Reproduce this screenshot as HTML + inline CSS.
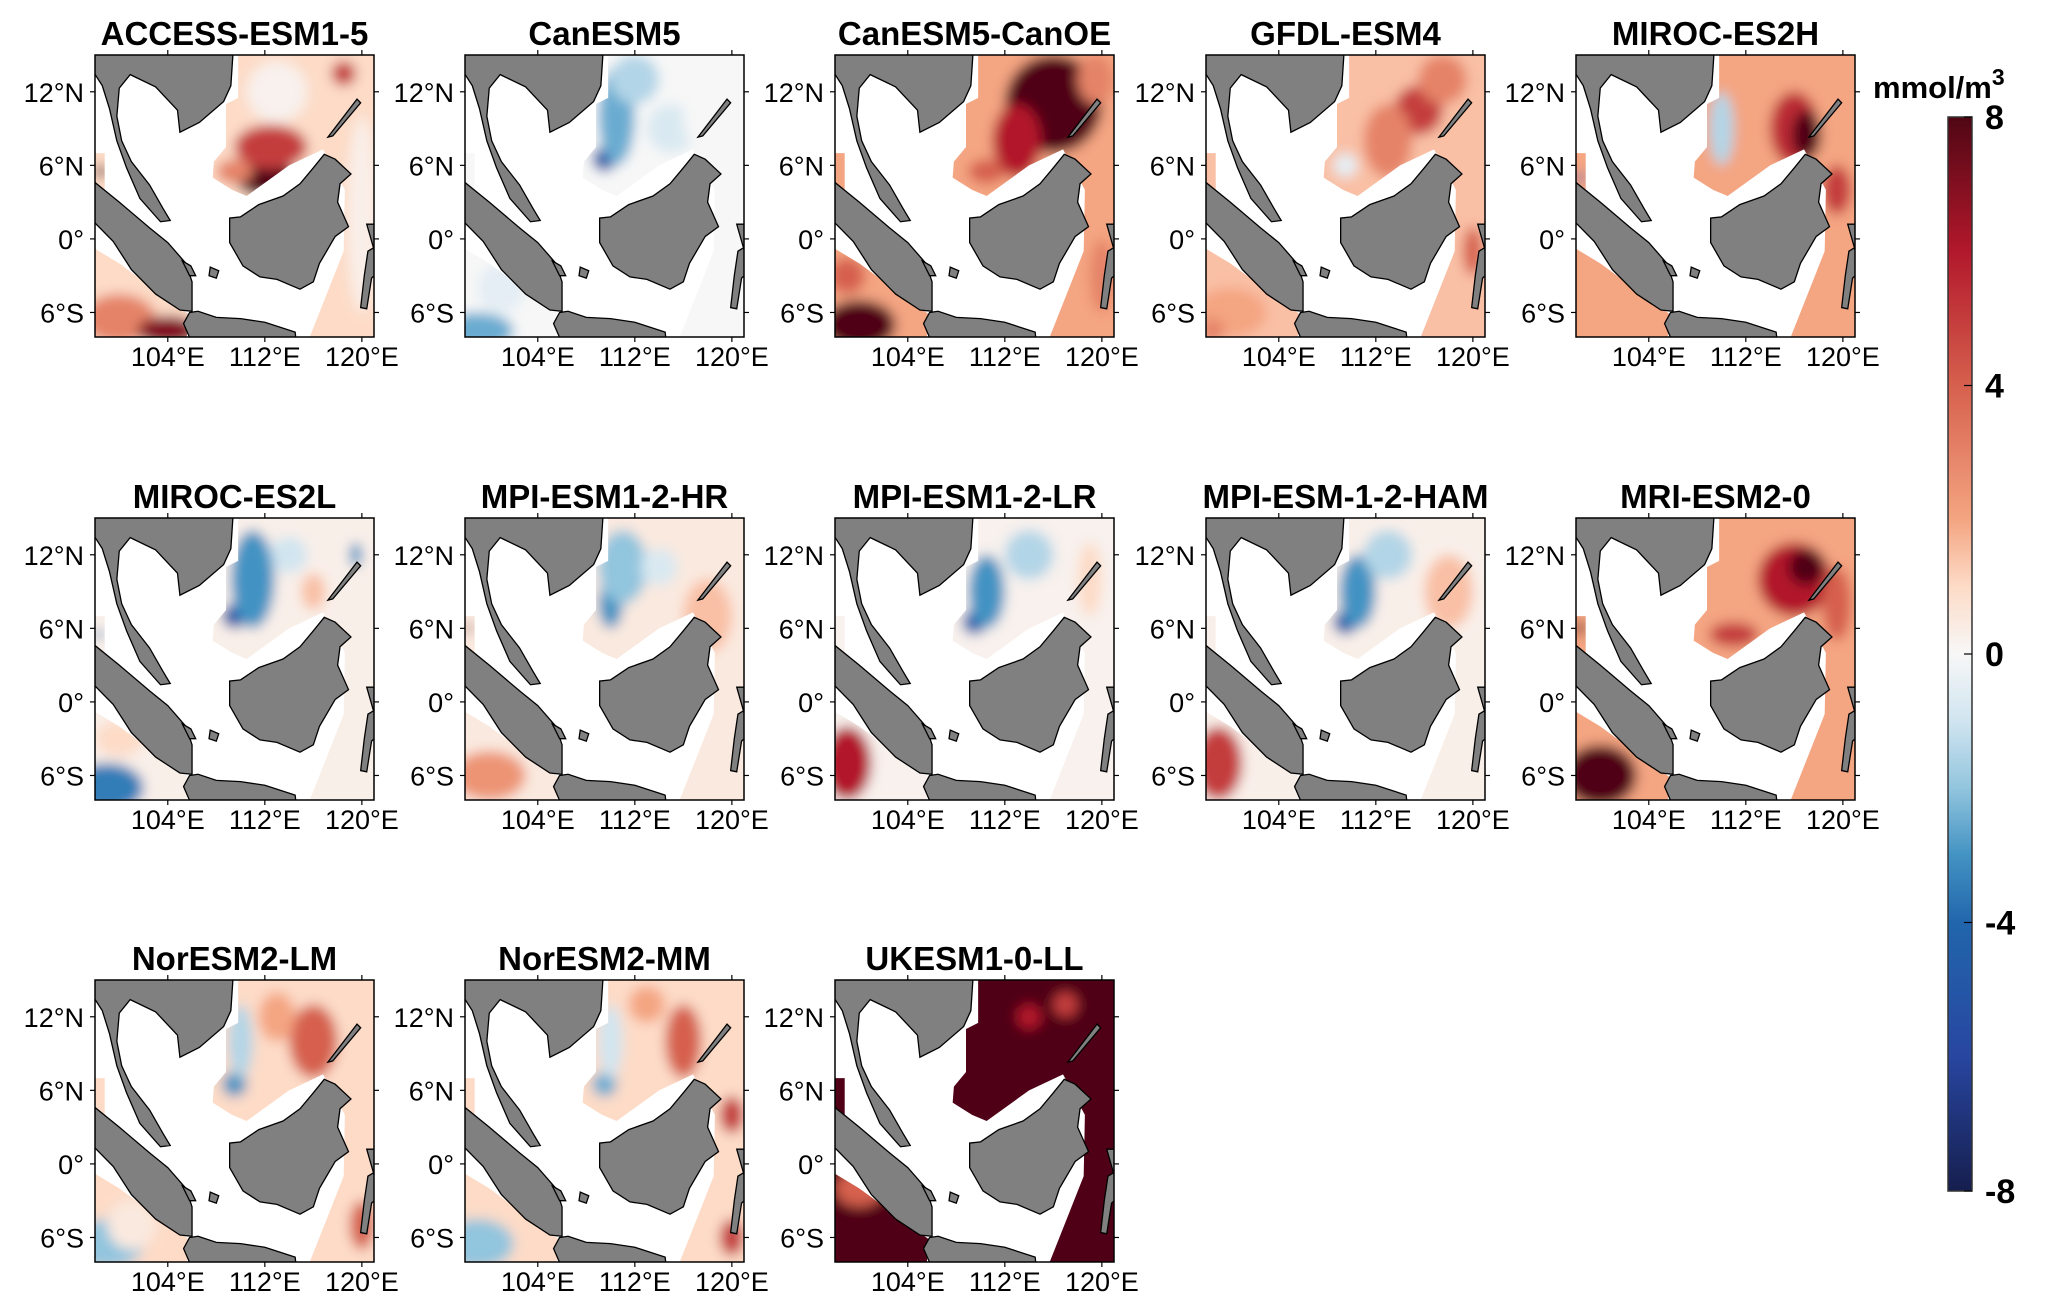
<!DOCTYPE html>
<html><head><meta charset="utf-8">
<style>
html,body{margin:0;padding:0;background:#fff;}
body{width:2067px;height:1307px;position:relative;overflow:hidden;font-family:"Liberation Sans",sans-serif;}
svg text{font-family:"Liberation Sans",sans-serif;}
</style></head>
<body>
<svg id="fig" width="2067" height="1307" xmlns="http://www.w3.org/2000/svg"></svg>
<script>
// ---- data ----
const models = ["ACCESS-ESM1-5","CanESM5","CanESM5-CanOE","GFDL-ESM4","MIROC-ES2H","MIROC-ES2L","MPI-ESM1-2-HR","MPI-ESM1-2-LR","MPI-ESM-1-2-HAM","MRI-ESM2-0","NorESM2-LM","NorESM2-MM","UKESM1-0-LL"];
const baseValues = [1, 0, 2, 1.5, 2, 0.3, 0.5, 0.2, 0.3, 2, 1, 1, 8];
// anomaly patches: [lon, lat, rx, ry, value]
const patches = [
 [[112,5,2.5,1.5,8],[112.5,7.5,3,1.8,5],[109.5,5.5,1.5,1,3],[113,12,2.5,2.5,0.2],[118.5,13.5,1,1,5],[120,2,1.2,8,0.3],[100,-6.5,3,2,3],[104,-7.5,2.5,1.2,7],[98.5,5.5,0.5,0.5,8]],
 [[109.5,6.5,1,1,-5],[110.5,10,1.5,4,-2.5],[112,13,2,2,-1.5],[115,9,2,2,-0.8],[118,10,2,3,0],[99,-7.5,3,1.5,-2.5],[101,-4,2,2,-0.5]],
 [[116,11,4,4,9],[113,8,2,3,6],[110.5,5.5,1.5,1,4],[119.5,13,1.5,2,3],[100,-7,3,2,8],[99,-3,1.5,1.5,4],[120,-3,1,3,3]],
 [[115.5,10.5,2,2,5],[113,8,2,3,3],[109.5,6,1,1,-0.5],[117.5,13,2,2,3],[100,-6,3,2,2],[98.5,-7.5,1,1,3],[120,-1,0.8,2,4]],
 [[110,9,1,3,-1.5],[116,9,2,3,5.5],[117,8.5,1.2,2,8],[119.5,4,1.2,2,5],[100,-5,3,2,2],[98.3,5,0.4,0.4,-4]],
 [[109.5,7,1,1,-5],[111,10,1.8,4,-3],[114,12,1.5,1.5,-1],[116,9,1,1.5,1.5],[119.5,12,0.5,1,-3],[99,-7,3,2,-3.5],[100,-3,2,1.5,1],[98.3,5.5,0.4,0.4,-3]],
 [[110,8,1,2,-3],[111,11,2,3,-2],[114,11,1.5,1.5,-0.8],[118,7,2,3,1.5],[100,-6,3,2,2.5],[98.3,6,0.3,0.4,7]],
 [[109.5,6.5,1,1,-4.5],[110.5,9,1.5,3,-3],[114,12,2,2,-1.5],[119,10,1,3,1],[99,-5,2,3,6]],
 [[109.5,6.5,1,1,-4.5],[110.5,9,1.5,3,-3],[113,12,2,2,-1.5],[118,9,2,3,1.5],[99,-5,2,3,5]],
 [[116,10,3,3,6],[117,11,1.5,1.5,9],[111,5.5,2,1,5],[119.5,8,1.2,3,4],[100,-6,3,2.5,9],[98.3,6,0.4,0.6,8]],
 [[109.5,6.5,1,1,-3],[110,10,1,3,-1.5],[116,10,2,3,4],[113,12,1.5,2,2],[99,-6.5,3,2,-2],[101,-5,2,2,0.5],[120,-5,1,2,4]],
 [[109.5,6.5,1,1,-2.5],[110,10,1,3,-1],[116,10,1.5,3,4],[113,13,1.5,1.5,2],[120,4,1,1.5,5],[99,-6.5,3,2,-2],[120,-6,1,1.5,5]],
 [[117,13,1,1,5],[114,12,1,1,6],[100,-6,4,3,9],[100,-2,2,1.5,4]]
];
const cbTicks = [8,4,0,-4,-8];
const latTicks = [12,6,0,-6];
const latLabels = ["12°N","6°N","0°","6°S"];
const lonTicks = [104,112,120];
const lonLabels = ["104°E","112°E","120°E"];

// ---- geometry ----
const NS="http://www.w3.org/2000/svg";
const svg=document.getElementById('fig');
function el(t,a,p){const e=document.createElementNS(NS,t);for(const k in a)e.setAttribute(k,a[k]);(p||svg).appendChild(e);return e;}
const colStops=[[-8,[22,30,78]],[-6,[40,70,160]],[-4,[33,102,172]],[-3,[67,147,195]],[-2,[146,197,222]],[-1,[209,229,240]],[0,[247,247,247]],[1,[253,219,199]],[2,[244,165,130]],[4,[214,96,77]],[6,[178,24,43]],[8,[80,6,20]]];
function col(v){v=Math.max(-8,Math.min(8,v));for(let i=0;i<colStops.length-1;i++){const a=colStops[i],b=colStops[i+1];if(v<=b[0]){const t=(v-a[0])/(b[0]-a[0]);const c=a[1].map((x,j)=>Math.round(x+(b[1][j]-x)*t));return `rgb(${c})`;}}return 'rgb(80,6,20)';}
const colX=[95,465,835,1206,1576], rowY=[55,518,980], PW=279, PH=282;
const LON0=98,LON1=121,LAT0=-8,LAT1=15;
function pts(a){return a.map(p=>p[0]+','+(-p[1])).join(' ');}
const land=[
 [[97.5,15.5],[109.4,15.5],[109.2,12.5],[108.6,11.2],[106.6,9.5],[105,8.7],[104.8,10.5],[103,12.4],[100.9,13.4],[100,12.3],[99.8,10],[100.2,8],[101,6.3],[102.5,4.4],[103.6,2.5],[104.2,1.5],[103.4,1.4],[101.7,3.3],[100.6,5.8],[99.8,8],[99.2,10.6],[98.6,12.5],[97.5,14.2]],
 [[97.5,5],[100,3],[102.5,0.9],[104,-0.3],[105.5,-2],[106,-3.5],[106,-5.9],[105,-5.8],[103,-4.5],[101,-2.5],[99.5,-0.2],[97.5,1.8]],
 [[109.1,1.7],[110,1.8],[111.5,2.8],[113.5,3.5],[114.9,4.5],[116,5.8],[116.9,6.9],[117.8,6.5],[119.1,5.3],[118.2,4.5],[118,3],[118.9,1],[117.8,0.2],[116.5,-2],[116,-3.5],[114.9,-4.1],[113,-3.3],[111.6,-3.1],[110.2,-2.2],[109.1,-0.3]],
 [[105.8,-6],[106.5,-5.9],[108,-6.4],[110,-6.5],[112,-6.8],[114.5,-7.6],[114.6,-8.5],[106,-8.5],[105.3,-6.9]],
 [[120.4,1.2],[121.5,1.2],[121.5,-0.4],[120.5,-1],[120.2,-3],[119.9,-5.6],[120.4,-5.7],[120.8,-3.2],[121.5,-2.6]],
 [[117.2,8.3],[119.6,11.4],[119.9,11.1],[117.6,8.4]],
 [[107.5,-2.3],[108.2,-2.6],[108,-3.2],[107.4,-3]],
 [[105.2,-1.8],[105.9,-2.2],[106.3,-3],[105.8,-3]]
];
const mask=[
 [[109.8,15.5],[121.5,15.5],[121.5,-8.5],[115.5,-8.5],[117.3,-4],[118.5,-1],[118.6,4],[116.8,7.3],[114,6],[110.5,3.5],[109.3,4],[107.7,5],[107.8,6.3],[108.8,7.5],[108.8,11],[109.8,11.5]],
 [[97.5,-8.5],[105.5,-8.5],[105.8,-6.2],[100,-2],[97.5,-0.5]],
 [[97.5,7],[98.8,7],[98.8,4],[97.5,4]]
];

const defs=el('defs',{});
const f=el('filter',{id:'blur',filterUnits:'userSpaceOnUse',x:'90',y:'-25',width:'40',height:'40'},defs);
el('feGaussianBlur',{stdDeviation:'0.5'},f);
const cp=el('clipPath',{id:'maskclip'},defs);
mask.forEach(m=>el('polygon',{points:pts(m)},cp));

models.forEach((name,i)=>{
  const X=colX[i%5],Y=rowY[Math.floor(i/5)];
  const g=el('g',{});
  
  
  const t=el('text',{x:X+PW/2,y:Y-10,'text-anchor':'middle','font-size':'33','font-weight':'bold',fill:'#000'},g);
  t.textContent=name;
  
  
  const m=el('svg',{x:X,y:Y,width:PW,height:PH,viewBox:`${LON0} ${-LAT1} ${LON1-LON0} ${LAT1-LAT0}`,preserveAspectRatio:'none'},g);
  
  
  el('rect',{x:LON0,y:-LAT1,width:23,height:23,fill:'#fff'},m);
  const fieldClip=el('g',{'clip-path':'url(#maskclip)'},m);
  
  
  const fg=el('g',{filter:'url(#blur)'},fieldClip);
  el('rect',{x:96,y:-17,width:27,height:27,fill:col(baseValues[i])},fg);
  patches[i].forEach(p=>{
    const e=el('ellipse',{cx:p[0],cy:-p[1],rx:p[2],ry:p[3],fill:col(p[4])},fg);
    
    
  });
  land.forEach(l=>{
    const pl=el('polygon',{points:pts(l),fill:'#808080',stroke:'#000','stroke-width':'1.3','vector-effect':'non-scaling-stroke'},m);
    
    
  });
  el('rect',{x:X,y:Y,width:PW,height:PH,fill:'none',stroke:'#000','stroke-width':'1.5'},g);
  latTicks.forEach((lt,k)=>{
    const y=Y+(LAT1-lt)/(LAT1-LAT0)*PH;
    el('line',{x1:X-5,x2:X,y1:y,y2:y,stroke:'#000','stroke-width':'1.2'},g);
    el('line',{x1:X+PW,x2:X+PW+5,y1:y,y2:y,stroke:'#000','stroke-width':'1.2'},g);
    const tx=el('text',{x:X-11,y:y+10,'text-anchor':'end','font-size':'27',fill:'#000'},g);
    tx.textContent=latLabels[k];
    
    
  });
  lonTicks.forEach((ln,k)=>{
    const x=X+(ln-LON0)/(LON1-LON0)*PW;
    el('line',{x1:x,x2:x,y1:Y+PH,y2:Y+PH+5,stroke:'#000','stroke-width':'1.2'},g);
    el('line',{x1:x,x2:x,y1:Y-5,y2:Y,stroke:'#000','stroke-width':'1.2'},g);
    const tx=el('text',{x:x,y:Y+PH+29,'text-anchor':'middle','font-size':'27',fill:'#000'},g);
    tx.textContent=lonLabels[k];
    
    
  });
});

// colorbar
const CBX=1948,CBW=24,CBY0=117,CBY1=1191;
const lg=el('linearGradient',{id:'cbgrad',x1:'0',y1:'1',x2:'0',y2:'0'},defs);
colStops.forEach(s=>el('stop',{offset:((s[0]+8)/16).toFixed(3),'stop-color':col(s[0])},lg));
const cb=el('g',{});


el('rect',{x:CBX,y:CBY0,width:CBW,height:CBY1-CBY0,fill:'url(#cbgrad)',stroke:'#333','stroke-width':'1.5'},cb);
cbTicks.forEach(v=>{
  const y=CBY1-(v+8)/16*(CBY1-CBY0);
  el('line',{x1:CBX+CBW-8,x2:CBX+CBW,y1:y,y2:y,stroke:'#000','stroke-width':'1.2'},cb);
  const tx=el('text',{x:CBX+CBW+13,y:y+12,'font-size':'34','font-weight':'bold',fill:'#000'},cb);
  tx.textContent=String(v);
  
  
});
const ut=el('text',{x:1873,y:98,'font-size':'31','font-weight':'bold',fill:'#000'},cb);


ut.textContent='mmol/m';
const sup=el('tspan',{dy:'-13','font-size':'23'},ut);
sup.textContent='3';
</script>
</body></html>
